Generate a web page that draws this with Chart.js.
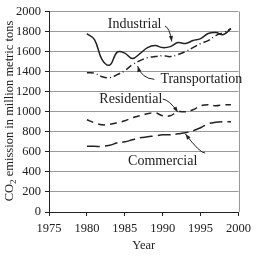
<!DOCTYPE html>
<html>
<head>
<meta charset="utf-8">
<script src="https://cdn.jsdelivr.net/npm/chart.js@4/dist/chart.umd.min.js"></script>
<style>
html,body{margin:0;padding:0;background:#fff;}
canvas{display:block;}
</style>
</head>
<body>
<canvas id="c" width="256" height="256"></canvas>
<script>
const years = [1980,1981,1982,1983,1984,1985,1986,1987,1988,1989,1990,1991,1992,1993,1994,1995,1996,1997,1998,1999];
const industrial     = [1780,1720,1520,1465,1595,1585,1530,1580,1640,1660,1640,1650,1690,1680,1710,1730,1780,1790,1770,1830];
const transportation = [1390,1385,1350,1340,1370,1410,1470,1510,1540,1550,1560,1550,1570,1600,1640,1680,1710,1760,1790,1830];
const residential    = [920,890,870,875,890,910,940,960,980,990,960,960,1000,1000,1020,1060,1070,1060,1070,1070];
const commercial     = [655,655,655,665,690,700,720,740,750,760,770,770,780,790,810,840,880,895,900,900];
const yTicks = [0,200,400,600,800,1000,1200,1400,1600,1800,2000];
const xTicks = [1975,1980,1985,1990,1995,2000];

const FONT = '"Liberation Serif", "DejaVu Serif", serif';
const INK = '#222';

function pts(arr){ return years.map((y,i)=>({x:y,y:arr[i]})); }

const notes = [
  {text:'Industrial', x:1986.3, y:1873, path:[[1990.3,1853],[1990.9,1843],[1991.2,1700]]},
  {text:'Transportation', x:1995.1, y:1323, path:[[1988.9,1323],[1987.2,1333],[1986.7,1455]]},
  {text:'Residential', x:1985.8, y:1127, path:[[1990.0,1127],[1990.9,1118],[1992.0,995]]},
  {text:'Commercial', x:1990.0, y:510, path:[[1995.6,588],[1994.9,588],[1993.0,778]]}
];

const extras = {
  id:'extras',
  afterDraw(chart){
    const ctx = chart.ctx, xs = chart.scales.x, ys = chart.scales.y, ca = chart.chartArea;
    ctx.save();
    ctx.strokeStyle = '#999'; ctx.lineWidth = 1;
    ctx.beginPath(); ctx.moveTo(Math.round(ca.right)+0.5, ca.top); ctx.lineTo(Math.round(ca.right)+0.5, ca.bottom); ctx.stroke();
    ctx.fillStyle = INK; ctx.strokeStyle = INK; ctx.lineWidth = 1;
    ctx.font = '14px ' + FONT; ctx.textAlign = 'center'; ctx.textBaseline = 'middle';
    notes.forEach(n=>{
      ctx.fillText(n.text, xs.getPixelForValue(n.x), ys.getPixelForValue(n.y));
      const p = n.path.map(q=>[xs.getPixelForValue(q[0]), ys.getPixelForValue(q[1])]);
      ctx.beginPath(); ctx.moveTo(p[0][0],p[0][1]);
      ctx.quadraticCurveTo(p[1][0],p[1][1],p[2][0],p[2][1]);
      ctx.stroke();
      const a = Math.atan2(p[2][1]-p[1][1], p[2][0]-p[1][0]);
      ctx.beginPath();
      ctx.moveTo(p[2][0],p[2][1]);
      ctx.lineTo(p[2][0]-6*Math.cos(a-0.35), p[2][1]-6*Math.sin(a-0.35));
      ctx.lineTo(p[2][0]-6*Math.cos(a+0.35), p[2][1]-6*Math.sin(a+0.35));
      ctx.closePath(); ctx.fill();
    });
    const s1 = 'CO', s2 = '2', s3 = ' emission in million metric tons';
    ctx.font = '12.5px ' + FONT;
    const w1 = ctx.measureText(s1).width, w3 = ctx.measureText(s3).width;
    ctx.font = '9px ' + FONT;
    const w2 = ctx.measureText(s2).width;
    const total = w1+w2+w3;
    const cy = 111;
    ctx.translate(13, cy + total/2);
    ctx.rotate(-Math.PI/2);
    ctx.textAlign = 'left'; ctx.textBaseline = 'alphabetic';
    ctx.font = '12.5px ' + FONT; ctx.fillText(s1, 0, 0);
    ctx.font = '9px ' + FONT; ctx.fillText(s2, w1, 3);
    ctx.font = '12.5px ' + FONT; ctx.fillText(s3, w1+w2, 0);
    ctx.restore();
  }
};

const lineBase = {borderColor:INK, borderWidth:1.5, pointRadius:0, fill:false, tension:0.4};

new Chart(document.getElementById('c'), {
  type:'line',
  data:{
    datasets:[
      Object.assign({label:'Industrial', data:pts(industrial)}, lineBase),
      Object.assign({label:'Transportation', data:pts(transportation), borderDash:[7,3,1,3]}, lineBase),
      Object.assign({label:'Residential', data:pts(residential), borderDash:[7,5]}, lineBase),
      Object.assign({label:'Commercial', data:pts(commercial), borderDash:[13,5]}, lineBase)
    ]
  },
  options:{
    responsive:false, animation:false, maintainAspectRatio:false,
    layout:{padding:{top:8,right:10,left:0,bottom:0}},
    plugins:{legend:{display:false}, tooltip:{enabled:false}},
    scales:{
      x:{
        type:'linear', min:1975, max:2000,
        afterBuildTicks(s){ s.ticks = xTicks.map(v=>({value:v})); },
        afterFit(s){ s.height = 44; },
        ticks:{font:{family:FONT,size:12.5}, color:INK, padding:5, maxRotation:0, callback:v=>String(v)},
        grid:{drawOnChartArea:false, tickLength:4, color:INK, tickColor:INK},
        border:{color:INK, width:1},
        title:{display:true, text:'Year', font:{family:FONT,size:12.5}, color:INK, padding:{top:0,bottom:3}}
      },
      y:{
        min:0, max:2000,
        afterBuildTicks(s){ s.ticks = yTicks.map(v=>({value:v})); },
        afterFit(s){ s.width = 49; },
        ticks:{font:{family:FONT,size:12.5}, color:INK, padding:4, callback:v=>String(v)},
        grid:{color:'#999', tickLength:4, tickColor:INK, lineWidth:1},
        border:{color:INK, width:1}
      }
    }
  },
  plugins:[extras]
});
</script>
</body>
</html>
